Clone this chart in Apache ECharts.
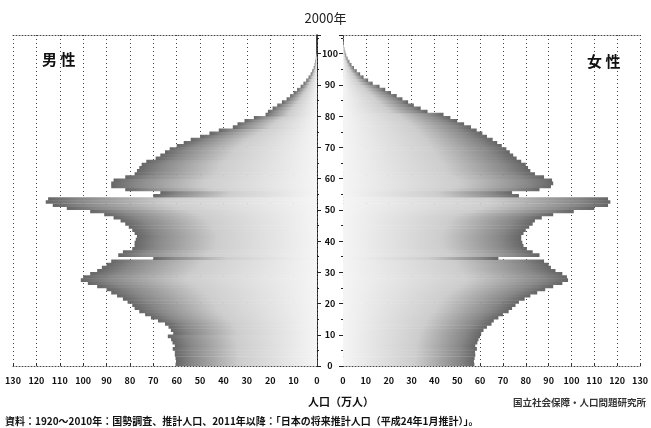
<!DOCTYPE html>
<html><head><meta charset="utf-8">
<script src="https://cdn.jsdelivr.net/npm/echarts@6/dist/echarts.min.js"></script>
<style>html,body{margin:0;padding:0;background:#fff}#c{width:651px;height:428px}</style>
</head><body><div id="c"></div>
<script>
// ages 0..105
const ages = [0,1,2,3,4,5,6,7,8,9,10,11,12,13,14,15,16,17,18,19,20,21,22,23,24,25,26,27,28,29,
30,31,32,33,34,35,36,37,38,39,40,41,42,43,44,45,46,47,48,49,50,51,52,53,54,55,56,57,58,59,
60,61,62,63,64,65,66,67,68,69,70,71,72,73,74,75,76,77,78,79,80,81,82,83,84,85,86,87,88,89,
90,91,92,93,94,95,96,97,98,99,100,101,102,103,104,105];
// population (万人)
const male = [60.5,60.3,60.5,60.8,60.8,61.7,60.8,61.8,62.4,63.8,
61.5,62.5,63.5,65,68,71,73.5,76,78,79,
81,83,85.5,88,90,94,98,101,100,97,
94,92,90,88,70,85,83,79,78,78,
77.5,77,78,79,80.5,82,84,87,91,97,
107,113,116,115,70,67,82,88,88,87,
82,78,77,76,75,73,69,67,65,63,
60,57,54,50,46,42,36,34,31,27,
22,21,19,17,15,13,11.5,10,8.5,7,
5.8,4.6,3.6,2.7,2.0,1.4,1.0,0.7,0.5,0.3,
0.2,0.15,0.1,0.05,0.03,0.02];
const female = [57.5,57.3,57.6,57.9,57.8,58.6,57.9,58.8,59.3,60.0,
60.5,61.5,63,65,66,68,70,72.5,74,75.5,
77,79.5,82,85,88.5,92,96,98.5,98,96,
93,91,90,88,68,86,83,80.5,79,78.5,
78,78,79,80,81.5,83,84,87,92,101,
110,116,117,116,77,74,86,91,92,91.5,
88,84,82,81,80,78,76,74.5,73,71.5,
69.5,67.5,65.5,63,61,58.5,56,53,50,47,
44,37,34,31,28.5,26,23.5,21,18.5,16,
13,11,9,7.5,6,4.8,3.7,2.8,2,1.4,
1.0,0.6,0.4,0.25,0.15,0.1];
const xTicks = {min:0, max:130, interval:10};
const ageTicks = {min:0, max:106, interval:10};

const FONT = "'Noto Sans CJK JP', sans-serif";
const chart = echarts.init(document.getElementById('c'), null, {renderer:'canvas'});
const dotted = {color:'#444', type:[1,2], width:1};
const gLeft = new echarts.graphic.LinearGradient(0,0,1,0,[
  {offset:0,color:'#666'},{offset:0.12,color:'#888'},{offset:0.45,color:'#cdcdcd'},{offset:1,color:'#f5f5f5'}]);
const gRight = new echarts.graphic.LinearGradient(0,0,1,0,[
  {offset:0,color:'#f5f5f5'},{offset:0.55,color:'#cdcdcd'},{offset:0.88,color:'#888'},{offset:1,color:'#666'}]);
const lbl = {fontFamily:FONT, fontSize:9, fontWeight:'bold', color:'#111'};

function xAx(grid, inverse, pos){
  const bottom = pos === 'bottom';
  return {gridIndex:grid, type:'value', min:xTicks.min, max:xTicks.max, interval:xTicks.interval,
    inverse:inverse, position:pos,
    axisLine:{show:true, onZero:false, lineStyle:dotted},
    axisTick:{show:bottom, inside:true, length:3, lineStyle:{color:'#333'}},
    axisLabel:Object.assign({show:bottom, margin:10}, lbl),
    splitLine:{show:bottom, lineStyle:{color:'#444', type:[1,3], width:1}}};
}
function catAx(grid, pos, lineStyle){
  return {gridIndex:grid, type:'category', data:ages, position:pos,
    axisLine:{show:true, onZero:false, lineStyle:lineStyle},
    axisTick:{show:false}, axisLabel:{show:false}, splitLine:{show:false}};
}
function valAx(grid, pos, showLabel){
  return {gridIndex:grid, type:'value', min:ageTicks.min, max:ageTicks.max, interval:ageTicks.interval, position:pos,
    axisLine:{show:false}, axisTick:{show:true, length:4, lineStyle:{color:'#222'}},
    minorTick:{show:true, splitNumber:2, length:2, lineStyle:{color:'#222'}},
    axisLabel:Object.assign({show:showLabel, margin:13, align:'center', showMaxLabel:false}, lbl),
    splitLine:{show:false}};
}

chart.setOption({
  backgroundColor:'#fff',
  animation:false,
  title:[
    {text:'2000年', left:'center', top:7, textStyle:{fontFamily:FONT, fontSize:13, fontWeight:'normal', color:'#222'}},
    {text:'男 性', left:37, top:47, textStyle:{fontFamily:FONT, fontSize:15, fontWeight:'bold', color:'#111'}},
    {text:'女 性', left:582, top:49, textStyle:{fontFamily:FONT, fontSize:15, fontWeight:'bold', color:'#111'}},
    {text:'人口（万人）', left:303, top:391, textStyle:{fontFamily:FONT, fontSize:11, fontWeight:'bold', color:'#111'}},
    {text:'国立社会保障・人口問題研究所', left:508, top:393, textStyle:{fontFamily:FONT, fontSize:9.5, fontWeight:'bold', color:'#333'}},
    {text:'資料：1920～2010年：国勢調査、推計人口、2011年以降：「日本の将来推計人口（平成24年1月推計）」。', left:0, top:411,
      textStyle:{fontFamily:FONT, fontSize:10, fontWeight:'bold', color:'#111'}}
  ],
  grid:[
    {left:13, top:35, width:304, height:331},
    {left:343, top:35, width:301, height:331}
  ],
  xAxis:[xAx(0,true,'bottom'), xAx(0,true,'top'), xAx(1,false,'bottom'), xAx(1,false,'top')],
  yAxis:[
    catAx(0,'right',{color:'#000', width:1.5}),
    valAx(0,'right',true),
    catAx(1,'left',{color:'#333', type:[2,2], width:1}),
    valAx(1,'left',false)
  ],
  series:[
    {name:'男性', type:'bar', xAxisIndex:0, yAxisIndex:0, data:male, barWidth:3.6, barGap:'-100%',
      itemStyle:{color:gLeft}, silent:true},
    {name:'女性', type:'bar', xAxisIndex:2, yAxisIndex:2, data:female, barWidth:3.6, barGap:'-100%',
      itemStyle:{color:gRight}, silent:true}
  ]
});
</script></body></html>
